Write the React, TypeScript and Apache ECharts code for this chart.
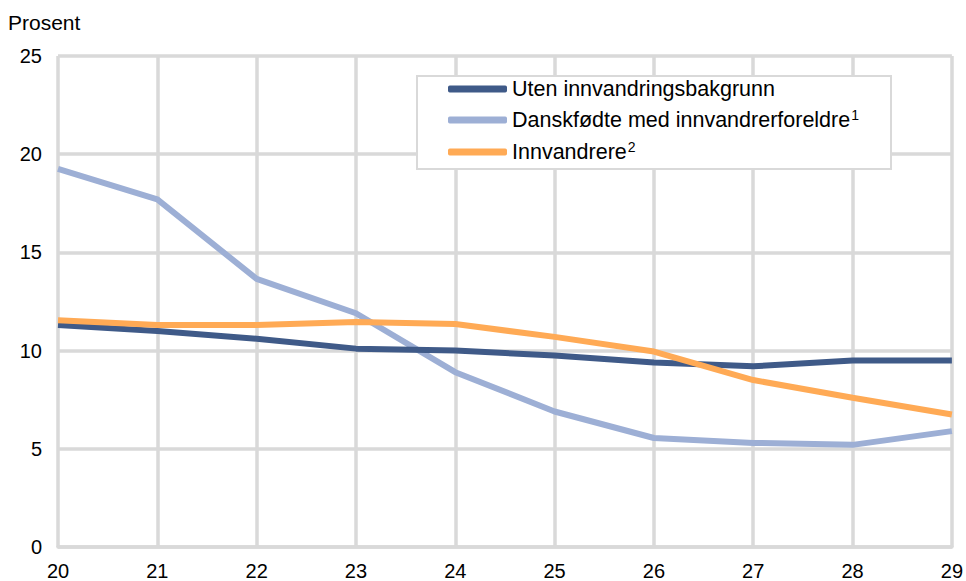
import React, { useEffect, useRef } from "react";
import * as echarts from "echarts";

const categories = ["20", "21", "22", "23", "24", "25", "26", "27", "28", "29"];
const seriesNames = [
  "Uten innvandringsbakgrunn",
  "Danskfødte med innvandrerforeldre",
  "Innvandrere",
];
const superscripts = ["", "1", "2"];
const utenValues = [11.3, 11.0, 10.6, 10.1, 10.0, 9.75, 9.4, 9.2, 9.5, 9.5];
const danskValues = [19.25, 17.7, 13.65, 11.9, 8.9, 6.9, 5.55, 5.3, 5.2, 5.9];
const innvValues = [11.55, 11.3, 11.3, 11.45, 11.35, 10.7, 9.95, 8.5, 7.6, 6.75];
const colors = ["#3F5A88", "#9DAFD5", "#FFAA55"];

const FONT = "Liberation Sans, Arial, sans-serif";

export default function App() {
  const ref = useRef<HTMLDivElement>(null);
  useEffect(() => {
    if (!ref.current) return;
    const chart = echarts.init(ref.current, undefined, { renderer: "svg" });
    const data = [utenValues, danskValues, innvValues];
    chart.setOption({
      animation: false,
      backgroundColor: "#ffffff",
      title: {
        text: "Prosent",
        left: 3,
        top: 7,
        textStyle: { fontFamily: FONT, fontSize: 21, fontWeight: "normal", color: "#000" },
      },
      grid: { left: 58, right: 14, top: 56, bottom: 33.5 },
      legend: {
        orient: "vertical",
        left: 417,
        top: 76,
        padding: [2, 32, 5, 31],
        itemGap: 8,
        itemWidth: 59,
        itemHeight: 7,
        icon: "roundRect",
        backgroundColor: "#fff",
        borderColor: "#D9D9D9",
        borderWidth: 2,
        data: seriesNames,
        formatter: (name: string) => {
          const i = seriesNames.indexOf(name);
          return superscripts[i] ? `{a|${name}}{s|${superscripts[i]}}` : `{a|${name}}`;
        },
        textStyle: {
          fontFamily: FONT,
          color: "#000",
          rich: {
            a: { fontFamily: FONT, fontSize: 21.5, color: "#000", lineHeight: 22 },
            s: { fontFamily: FONT, fontSize: 14, color: "#000", lineHeight: 12, padding: [0, 0, 10, 1] },
          },
        },
      },
      xAxis: {
        type: "category",
        data: categories,
        boundaryGap: false,
        axisLine: { show: true, lineStyle: { color: "#D9D9D9", width: 3.5 } },
        axisTick: { show: false },
        axisLabel: { fontFamily: FONT, fontSize: 20, color: "#000", margin: 14 },
        splitLine: { show: true, lineStyle: { color: "#D9D9D9", width: 3.5 } },
      },
      yAxis: {
        type: "value",
        min: 0,
        max: 25,
        interval: 5,
        axisLine: { show: false },
        axisTick: { show: false },
        axisLabel: { fontFamily: FONT, fontSize: 20, color: "#000", margin: 16 },
        splitLine: { show: true, lineStyle: { color: "#D9D9D9", width: 3.5 } },
      },
      series: seriesNames.map((name, i) => ({
        name,
        type: "line",
        data: data[i],
        symbol: "none",
        color: colors[i],
        lineStyle: { color: colors[i], width: 6 },
        z: i === 0 ? 3 : i === 1 ? 2 : 4,
      })),
    });
    return () => chart.dispose();
  }, []);
  return <div ref={ref} style={{ width: 966, height: 581, position: "absolute", left: 0, top: 0 }} />;
}
